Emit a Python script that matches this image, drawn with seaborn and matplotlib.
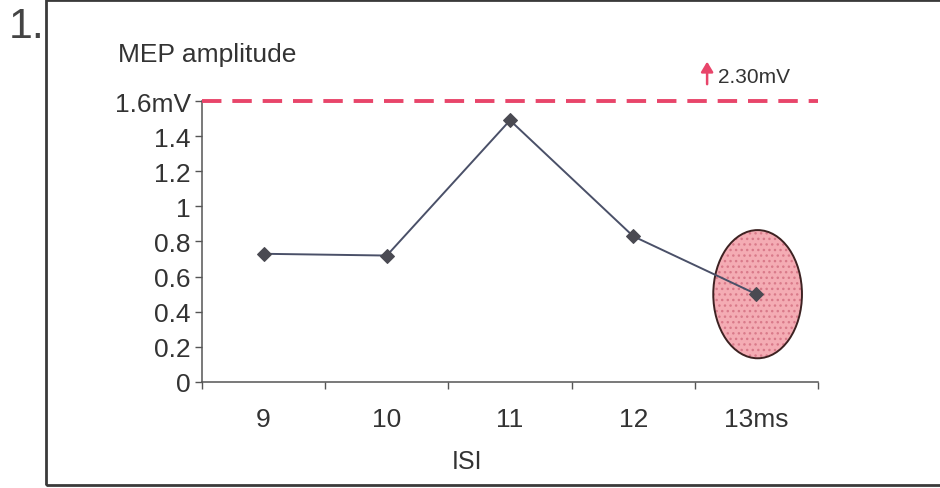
import matplotlib
matplotlib.use("Agg")
import matplotlib.pyplot as plt
from matplotlib.patches import Ellipse, Rectangle
from matplotlib.ticker import FixedLocator, NullFormatter
import seaborn as sns
import pandas as pd

# ISI categories and MEP amplitudes (mV)
isi_labels = ["9", "10", "11", "12", "13ms"]
mep_amplitude = [0.73, 0.72, 1.49, 0.83, 0.50]
y_ticks = [0, 0.2, 0.4, 0.6, 0.8, 1, 1.2, 1.4, 1.6]
y_tick_labels = ["0", "0.2", "0.4", "0.6", "0.8", "1", "1.2", "1.4", "1.6mV"]
threshold = 1.6
off_scale_label = "2.30mV"

sns.set_theme(style="white")
plt.rcParams["font.family"] = ["Liberation Sans", "DejaVu Sans"]

text_color = "#333333"
red = "#e8456a"

df = pd.DataFrame({"ISI": isi_labels, "MEP": mep_amplitude})

fig = plt.figure(figsize=(9.4, 4.89), dpi=100)
fig.patch.set_facecolor("white")
ax = fig.add_axes([0.2149, 0.2168, 0.8702 - 0.2149, 0.7914 - 0.2168])
ax.set_facecolor("white")

# highlighted last condition
ell = Ellipse((4.01, 0.50), width=0.72, height=0.73, facecolor="#f4acb4",
              edgecolor="none", zorder=1)
ax.add_patch(ell)
ell_h = Ellipse((4.01, 0.50), width=0.72, height=0.73, facecolor="none",
                edgecolor="#d97a8a", hatch="...", lw=0, zorder=1.5)
ax.add_patch(ell_h)
ell_e = Ellipse((4.01, 0.50), width=0.72, height=0.73, facecolor="none",
                edgecolor="#3d2222", lw=1.4, zorder=2)
ax.add_patch(ell_e)

sns.lineplot(data=df, x="ISI", y="MEP", ax=ax, sort=False, color="#4a5068",
             lw=1.4, marker="D", markersize=7, markerfacecolor="#4a4a52",
             markeredgecolor="#4a4a52", zorder=3)

ax.axhline(threshold, color=red, lw=2.8, ls=(0, (5, 2.8)), zorder=4,
           clip_on=False)

ax.set_xlim(-0.5, 4.5)
ax.set_ylim(0, 1.6)

# category boundaries get tick marks; labels sit at category centres
ax.xaxis.set_major_locator(FixedLocator([-0.5, 0.5, 1.5, 2.5, 3.5, 4.5]))
ax.xaxis.set_major_formatter(NullFormatter())
ax.xaxis.set_minor_locator(FixedLocator([0, 1, 2, 3, 4]))
ax.set_xticks([0, 1, 2, 3, 4], isi_labels, minor=True)
ax.tick_params(axis="x", which="major", direction="out", length=5, width=1,
               color="#555555", bottom=True)
ax.tick_params(axis="x", which="minor", length=0, pad=18, labelsize=19,
               labelcolor=text_color)

ax.set_yticks(y_ticks, y_tick_labels)
ax.tick_params(axis="y", direction="out", length=5, width=1, color="#555555",
               left=True, pad=3, labelsize=19, labelcolor=text_color)

for side in ["top", "right"]:
    ax.spines[side].set_visible(False)
for side in ["left", "bottom"]:
    ax.spines[side].set_color("#555555")
    ax.spines[side].set_linewidth(1.1)

ax.set_xlabel("")
ax.set_ylabel("")

# off-scale marker above the threshold line
ax.annotate("", xy=(3.6, 1.84), xytext=(3.6, 1.68), annotation_clip=False,
            arrowprops=dict(arrowstyle="-|>,head_width=0.3,head_length=0.5",
                            color=red, lw=1.8))
ax.text(3.69, 1.74, off_scale_label, fontsize=15, color=text_color,
        ha="left", va="center", clip_on=False)

fig.text(0.1255, 0.888, "MEP amplitude", fontsize=19, color=text_color,
         ha="left", va="center")
fig.text(0.497, 0.055, "ISI", fontsize=18, color=text_color,
         ha="center", va="center")
fig.text(0.009, 0.945, "1.", fontsize=31, color="#444444",
         ha="left", va="center")

# panel frame
fig.patches.append(Rectangle((0.049, 0.006), 1.0, 0.991, transform=fig.transFigure,
                             fill=False, edgecolor="#3a3a3a", lw=2, zorder=0))

fig.savefig("out.png", dpi=100, facecolor="white")
